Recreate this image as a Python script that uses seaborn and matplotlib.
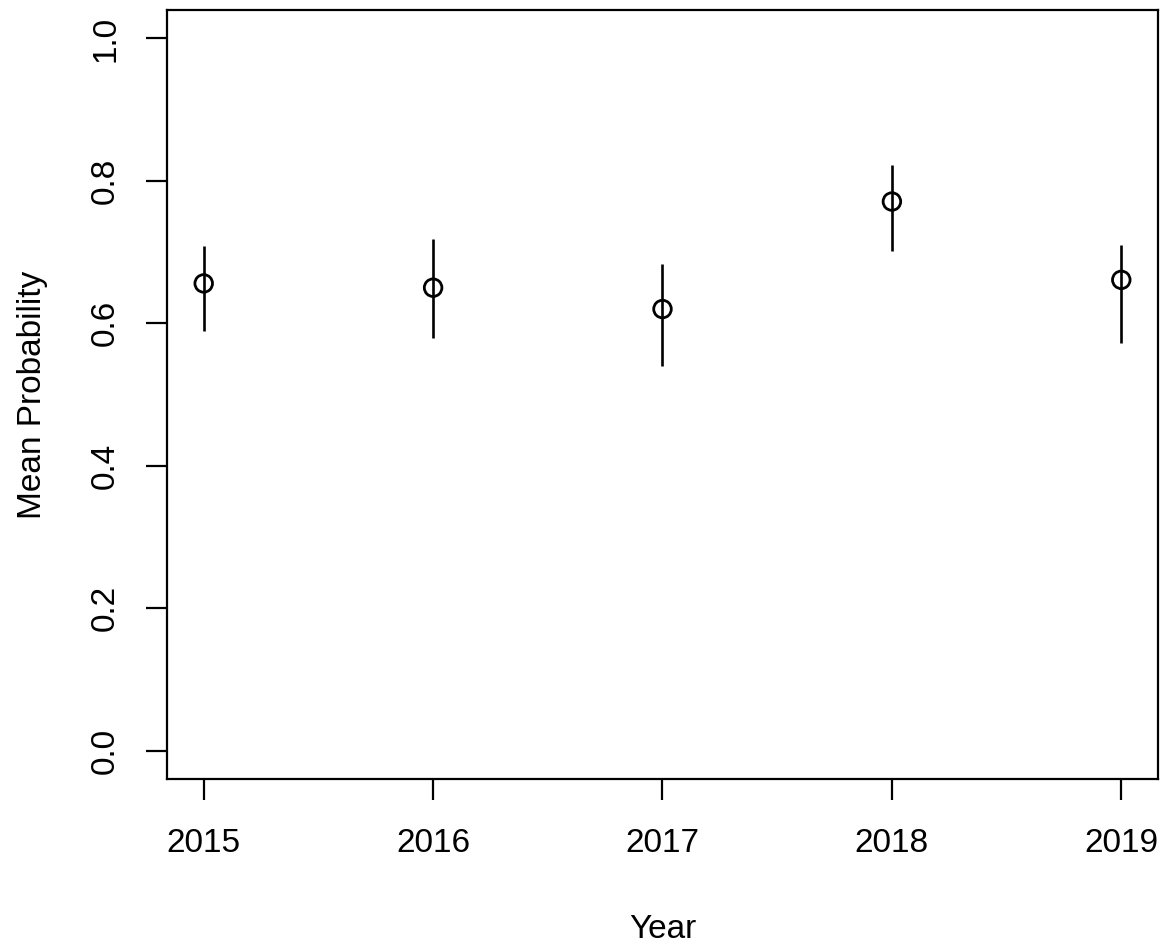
import pandas as pd
import matplotlib
matplotlib.use("Agg")
import matplotlib.pyplot as plt
import seaborn as sns

years = [2015, 2016, 2017, 2018, 2019]
mean_prob = [0.656, 0.650, 0.620, 0.771, 0.661]
lower = [0.589, 0.580, 0.540, 0.701, 0.573]
upper = [0.709, 0.718, 0.683, 0.822, 0.710]
y_ticks = [0.0, 0.2, 0.4, 0.6, 0.8, 1.0]

df = pd.DataFrame({"Year": years, "Mean Probability": mean_prob, "lo": lower, "hi": upper})

sns.set_style("ticks")
plt.rcParams["font.family"] = ["Liberation Sans", "DejaVu Sans"]
plt.rcParams["text.color"] = "black"
plt.rcParams["axes.labelcolor"] = "black"

fig = plt.figure(figsize=(11.7, 9.48), dpi=100)
ax = fig.add_axes([167 / 1170, 1 - 779 / 948, (1158 - 167) / 1170, (779 - 10) / 948])

# confidence bars
ax.vlines(df["Year"], df["lo"], df["hi"], color="black", linewidth=1.9, zorder=2)
sns.scatterplot(data=df, x="Year", y="Mean Probability", ax=ax, marker="o", s=160,
                facecolor="none", edgecolor="black", linewidth=2.0, zorder=3)

ax.set_xlim(2015 - 0.16, 2019 + 0.16)
ax.set_ylim(-0.04, 1.04)
ax.set_xticks(years)
ax.set_xticklabels([str(y) for y in years])
ax.set_yticks(y_ticks)
ax.set_yticklabels([f"{v:.1f}" for v in y_ticks], rotation=90, va="center")

for side in ["top", "right", "bottom", "left"]:
    ax.spines[side].set_visible(True)
    ax.spines[side].set_linewidth(1.6)
    ax.spines[side].set_color("black")

ax.tick_params(axis="both", direction="out", length=15, width=1.6, colors="black",
               labelsize=24, labelcolor="black")
ax.tick_params(axis="x", pad=20)
ax.tick_params(axis="y", pad=18)

ax.set_xlabel("Year", fontsize=24, labelpad=40, color="black")
ax.set_ylabel("Mean Probability", fontsize=24, labelpad=30, color="black")

fig.savefig("out.png", dpi=100)
